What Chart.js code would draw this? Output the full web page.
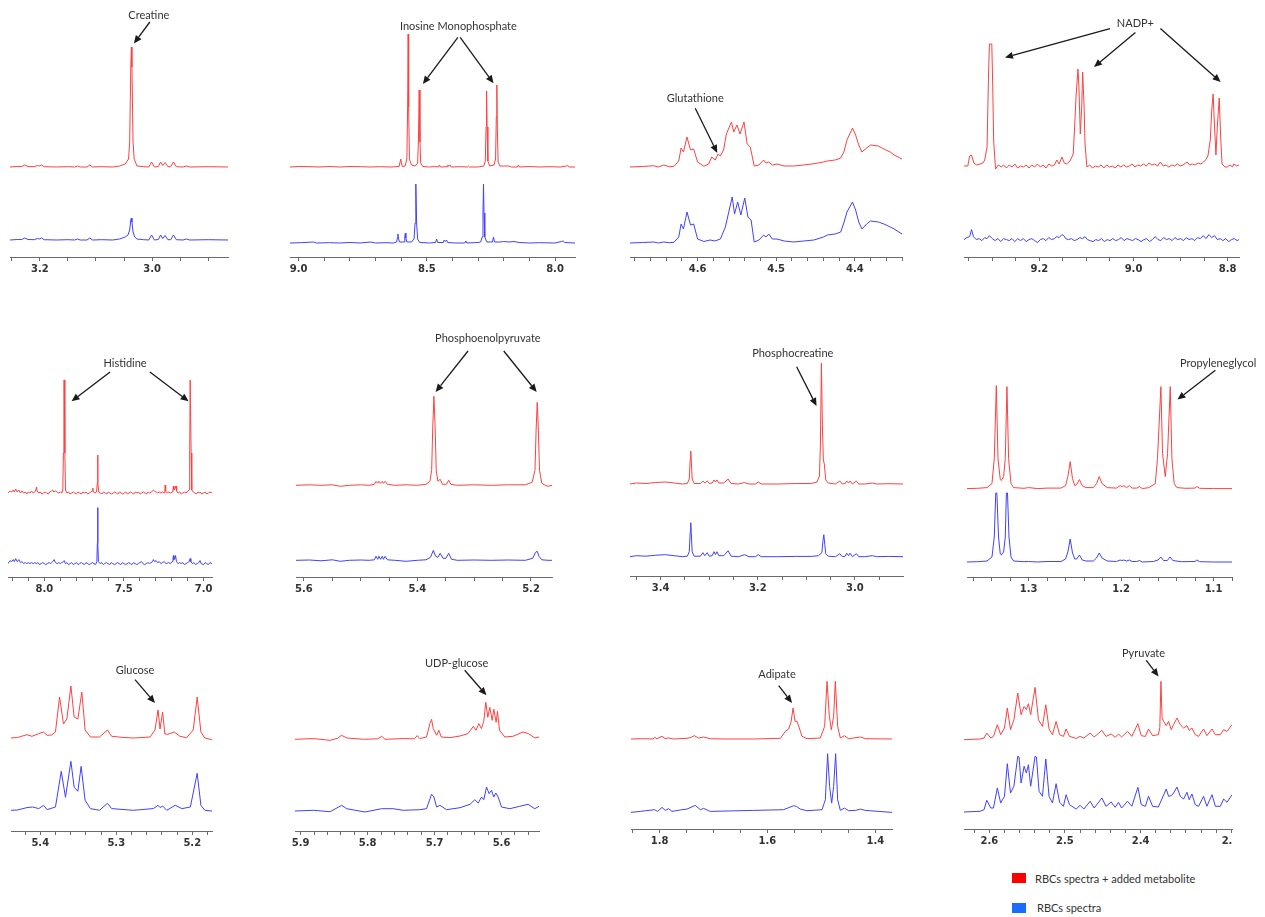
<!DOCTYPE html>
<html>
<head>
<meta charset="utf-8">
<script src="https://cdn.jsdelivr.net/npm/chart.js@4.4.1/dist/chart.umd.min.js"></script>
<style>
  body { margin: 0; background: #fff; width: 1265px; height: 917px; position: relative; overflow: hidden; }
  canvas { position: absolute; }
  .swatch { position: absolute; width: 14px; height: 10px; }
  .key { position: absolute; font: 11px Lato, "Open Sans", sans-serif; color: #333; white-space: nowrap; }
</style>
</head>
<body>
<div class="swatch" style="left:1012px;top:873px;background:#ff0000"></div>
<div class="key" style="left:1035px;top:872px">RBCs spectra + added metabolite</div>
<div class="swatch" style="left:1012px;top:903px;background:#1a6cff"></div>
<div class="key" style="left:1037px;top:901px">RBCs spectra</div>

<script>
// spectra: [ppm, intensity above own baseline]
const creatineRed = [[3.253,0],[3.240,0.5],[3.232,0.5],[3.227,2],[3.221,0.5],[3.210,0.3],[3.204,1.5],[3.201,1],[3.197,2],[3.192,0.3],[3.170,0],[3.150,0.3],[3.138,0],[3.133,1],[3.128,0],[3.116,0],[3.111,2],[3.106,0],[3.090,0.3],[3.070,0],[3.058,1],[3.048,3],[3.042,8],[3.040,25],[3.038,100],[3.037,120],[3.036,100],[3.034,25],[3.032,8],[3.027,1],[3.015,0.3],[3.006,0],[3.001,5],[2.996,0],[2.989,0.5],[2.985,5],[2.981,1.5],[2.977,4.5],[2.972,0.3],[2.967,0.3],[2.962,5],[2.957,0.3],[2.945,0],[2.939,1],[2.933,0],[2.900,0.3],[2.865,0]];
const creatineBlue = [[3.253,0],[3.240,0.5],[3.232,0.5],[3.227,2],[3.221,0.5],[3.210,0.3],[3.204,1.5],[3.201,1],[3.197,2],[3.192,0.3],[3.170,0],[3.150,0.3],[3.138,0],[3.133,1],[3.128,0],[3.116,0],[3.111,2],[3.106,0],[3.090,0.3],[3.070,0],[3.058,1],[3.048,3],[3.043,5],[3.040,10],[3.038,20],[3.037,22],[3.036,18],[3.034,8],[3.031,3],[3.027,1],[3.015,0.3],[3.006,0],[3.001,5],[2.996,0],[2.989,0.5],[2.985,5],[2.981,1.5],[2.977,4.5],[2.972,0.3],[2.967,0.3],[2.962,5],[2.957,0.3],[2.945,0],[2.939,1],[2.933,0],[2.900,0.3],[2.865,0]];

const impRed = [[9.034,0],[9.000,0.5],[8.960,0.3],[8.920,0],[8.880,0.5],[8.840,0],[8.800,0.5],[8.760,0.3],[8.720,0],[8.680,0.3],[8.640,0],[8.608,0.5],[8.604,6],[8.602,8],[8.600,5],[8.596,0.5],[8.585,1],[8.578,8],[8.575,60],[8.573,133],[8.571,60],[8.568,8],[8.560,2],[8.545,1],[8.536,4],[8.533,25],[8.530,77],[8.527,25],[8.524,4],[8.516,0.5],[8.490,0],[8.470,0.5],[8.455,0],[8.451,2],[8.447,0],[8.421,0.3],[8.418,2],[8.414,1],[8.410,2],[8.405,0],[8.370,0.3],[8.342,0],[8.338,1],[8.334,0],[8.300,0],[8.278,1],[8.272,6],[8.269,40],[8.267,76],[8.265,40],[8.262,6],[8.255,1],[8.238,2],[8.232,8],[8.229,50],[8.227,82],[8.225,40],[8.222,5],[8.215,1],[8.200,1],[8.180,1],[8.170,0],[8.147,0],[8.143,2],[8.139,0],[8.100,0.5],[8.060,0],[8.020,0.3],[7.980,0],[7.955,1],[7.950,1.5],[7.945,0],[7.922,0]];
const impBlue = [[9.034,0],[8.990,0.3],[8.943,1],[8.930,0],[8.880,0.3],[8.840,0],[8.800,0.5],[8.760,0],[8.721,1],[8.700,0],[8.660,0.3],[8.630,0],[8.618,1],[8.615,5],[8.613,9],[8.611,5],[8.607,1],[8.589,1],[8.586,6],[8.584,10],[8.582,5],[8.578,1],[8.560,1],[8.550,4],[8.546,20],[8.543,59],[8.540,20],[8.536,4],[8.528,0.5],[8.490,0],[8.466,0.5],[8.462,4],[8.458,0.5],[8.436,0.5],[8.432,3],[8.428,1.5],[8.423,3],[8.419,0.5],[8.390,0],[8.352,0],[8.348,2],[8.344,0],[8.300,0.5],[8.290,1],[8.284,6],[8.281,30],[8.279,59],[8.277,30],[8.274,6],[8.266,1],[8.244,1],[8.240,6],[8.236,1],[8.215,1],[8.200,1.5],[8.180,1],[8.160,1.5],[8.140,0.5],[8.100,0],[8.060,0.3],[8.000,0],[7.975,1.5],[7.968,2],[7.962,0.5],[7.922,0]];

const glutRed = [[4.686,0],[4.670,0.5],[4.656,1.3],[4.650,0],[4.643,2],[4.636,0.3],[4.630,0.7],[4.624,6],[4.621,19],[4.618,15],[4.6135,30],[4.609,17],[4.605,18],[4.600,5],[4.592,0.7],[4.586,3],[4.582,10],[4.5775,7],[4.574,13],[4.571,11],[4.567,17],[4.5634,33],[4.557,45],[4.554,35],[4.550,42],[4.546,33],[4.541,45],[4.537,23],[4.533,20],[4.528,1],[4.522,2],[4.516,7],[4.513,4],[4.5095,5],[4.505,2],[4.499,3],[4.490,1],[4.478,1],[4.465,2],[4.452,3.3],[4.440,5],[4.435,6],[4.425,7],[4.418,9],[4.414,15],[4.410,27],[4.403,39],[4.399,32],[4.395,22],[4.391,15],[4.385,19],[4.380,22],[4.370,21],[4.363,18],[4.355,15],[4.350,12],[4.340,8]];
const glutBlue = [[4.686,0],[4.670,0.5],[4.656,1],[4.650,0],[4.643,1],[4.636,0.3],[4.630,0.7],[4.624,6],[4.621,19],[4.618,14],[4.6135,31],[4.609,18],[4.605,19],[4.600,4],[4.592,1.5],[4.584,3],[4.578,2],[4.571,4],[4.5647,16],[4.556,46],[4.553,29],[4.549,41],[4.545,28],[4.540,45],[4.536,26],[4.532,23],[4.528,1],[4.522,3],[4.516,8],[4.513,6],[4.5095,9],[4.505,4],[4.499,4],[4.490,2],[4.478,1],[4.465,2],[4.452,3],[4.440,6],[4.435,8],[4.425,9],[4.418,11],[4.414,20],[4.410,31],[4.403,41],[4.399,33],[4.395,21],[4.391,14],[4.385,19],[4.380,22],[4.370,21],[4.363,19],[4.355,16],[4.350,14],[4.340,9]];

const nadpRed = [[9.360,0],[9.352,0],[9.348,10],[9.344,11],[9.339,3],[9.333,1],[9.326,2],[9.320,3],[9.316,6],[9.311,19],[9.308,90],[9.306,122],[9.301,122],[9.299,80],[9.297,25],[9.293,-3],[9.287,1],[9.281,-1],[9.276,1],[9.270,-2],[9.264,1],[9.258,-1],[9.252,2],[9.246,-2],[9.240,0],[9.234,-1],[9.228,1],[9.222,-2],[9.216,1],[9.210,-1],[9.204,2],[9.198,-1],[9.192,1],[9.186,-2],[9.180,2],[9.174,0],[9.168,1],[9.163,6],[9.158,2],[9.152,9],[9.147,3],[9.142,2],[9.135,5],[9.128,12],[9.125,40],[9.122,70],[9.118,97],[9.116,80],[9.113,32],[9.110,60],[9.108,94],[9.105,60],[9.103,22],[9.099,-1],[9.093,1],[9.087,-2],[9.081,0],[9.075,-1],[9.069,1],[9.063,-2],[9.057,1],[9.051,-1],[9.045,0],[9.039,-2],[9.033,1],[9.027,-1],[9.021,1],[9.015,-1],[9.009,0],[9.003,2],[8.997,-1],[8.991,1],[8.985,0],[8.979,2],[8.973,0],[8.967,3],[8.961,1],[8.955,2],[8.949,0],[8.943,4],[8.937,0],[8.931,1],[8.925,-1],[8.919,1],[8.913,0],[8.907,2],[8.901,0],[8.895,1],[8.889,3],[8.886,4],[8.881,1],[8.875,2],[8.869,1],[8.863,3],[8.857,2],[8.851,4],[8.847,6],[8.842,10],[8.837,26],[8.834,55],[8.831,72],[8.828,40],[8.825,11],[8.822,40],[8.818,68],[8.815,30],[8.812,2],[8.806,-1],[8.801,-1],[8.795,1],[8.790,-1],[8.787,2],[8.781,0],[8.776,1]];
const nadpBlue = [[9.360,0],[9.354,2],[9.348,3],[9.344,10],[9.340,3],[9.334,0],[9.328,1],[9.322,-1],[9.316,2],[9.311,1],[9.306,4],[9.300,1],[9.294,-1],[9.288,1],[9.282,-2],[9.276,1],[9.270,0],[9.264,-1],[9.258,1],[9.252,-2],[9.246,1],[9.240,-1],[9.234,1],[9.228,-2],[9.222,0],[9.216,1],[9.210,-1],[9.204,-3],[9.198,0],[9.192,1],[9.186,-1],[9.180,2],[9.174,0],[9.168,1],[9.163,3],[9.158,2],[9.152,5],[9.148,4],[9.144,1],[9.138,0],[9.132,1],[9.126,-1],[9.120,0],[9.114,2],[9.108,1],[9.103,3],[9.098,0],[9.092,-1],[9.086,-2],[9.080,0],[9.074,-1],[9.068,1],[9.062,-2],[9.056,0],[9.050,-1],[9.044,1],[9.038,-1],[9.032,0],[9.026,2],[9.020,-1],[9.014,1],[9.008,0],[9.002,-1],[8.996,1],[8.990,0],[8.984,-2],[8.978,0],[8.972,1],[8.966,-2],[8.960,0],[8.954,3],[8.948,0],[8.942,-1],[8.936,2],[8.930,0],[8.924,1],[8.918,-1],[8.912,2],[8.906,0],[8.900,1],[8.894,-1],[8.888,2],[8.882,0],[8.876,1],[8.870,-1],[8.864,2],[8.858,1],[8.852,4],[8.846,1],[8.840,5],[8.834,2],[8.828,4],[8.822,0],[8.816,1],[8.810,-1],[8.804,1],[8.798,-2],[8.792,0],[8.786,1],[8.780,-1],[8.776,0]];

const histRed = [[8.228,0],[8.215,2],[8.205,1],[8.195,3],[8.188,1],[8.180,4],[8.170,1],[8.160,3],[8.150,0],[8.140,2],[8.130,0],[8.120,1],[8.110,-1],[8.100,1],[8.090,0],[8.080,2],[8.070,0],[8.060,1],[8.053,3],[8.049,6],[8.045,2],[8.035,0],[8.025,1],[8.015,-1],[8.005,0],[7.995,1],[7.985,0],[7.975,-1],[7.965,1],[7.955,2],[7.948,3],[7.941,1],[7.930,2],[7.920,1],[7.910,0],[7.900,1],[7.890,0],[7.884,3],[7.880,40],[7.877,113],[7.874,113],[7.871,40],[7.867,3],[7.858,0],[7.848,1],[7.838,-1],[7.828,0],[7.818,1],[7.808,0],[7.798,-1],[7.788,1],[7.778,0],[7.768,-1],[7.758,1],[7.748,0],[7.738,1],[7.728,-1],[7.718,0],[7.708,1],[7.699,2],[7.696,5],[7.692,1],[7.682,0],[7.672,1],[7.667,10],[7.665,38],[7.663,10],[7.658,1],[7.648,0],[7.638,-1],[7.628,1],[7.618,0],[7.608,-1],[7.598,1],[7.588,0],[7.578,-1],[7.568,0],[7.558,1],[7.548,0],[7.538,-1],[7.528,1],[7.518,0],[7.508,-1],[7.498,0],[7.488,1],[7.478,-1],[7.468,0],[7.458,1],[7.448,0],[7.438,-1],[7.428,1],[7.418,0],[7.408,1],[7.398,-1],[7.388,0],[7.378,1],[7.368,0],[7.358,-1],[7.348,1],[7.338,0],[7.328,1],[7.320,2],[7.315,3],[7.308,2],[7.298,1],[7.288,0],[7.278,1],[7.268,0],[7.258,1],[7.248,0],[7.243,3],[7.241,8],[7.238,2],[7.228,0],[7.218,1],[7.208,0],[7.198,1],[7.192,4],[7.189,7],[7.186,3],[7.180,4],[7.173,7],[7.169,2],[7.160,0],[7.150,1],[7.140,-1],[7.130,0],[7.120,1],[7.110,0],[7.100,2],[7.090,3],[7.087,40],[7.084,113],[7.081,113],[7.078,40],[7.074,3],[7.065,1],[7.055,0],[7.045,-1],[7.035,1],[7.025,0],[7.020,1],[7.012,-1],[7.000,0],[6.990,1],[6.980,-1],[6.970,0],[6.960,1],[6.947,0]];
const histBlue = [[8.228,0],[8.215,3],[8.205,2],[8.195,4],[8.188,2],[8.180,5],[8.170,2],[8.160,4],[8.150,1],[8.140,2],[8.130,0],[8.120,1],[8.110,0],[8.100,1],[8.090,0],[8.080,1],[8.070,0],[8.060,1],[8.050,0],[8.040,1],[8.030,-1],[8.020,0],[8.010,1],[8.000,0],[7.990,-1],[7.980,0],[7.970,1],[7.960,0],[7.948,2],[7.938,4],[7.930,1],[7.920,0],[7.910,1],[7.900,0],[7.890,1],[7.880,2],[7.875,3],[7.868,0],[7.858,1],[7.848,-1],[7.838,0],[7.828,1],[7.818,-1],[7.808,0],[7.798,1],[7.788,-1],[7.778,0],[7.768,1],[7.758,0],[7.748,-1],[7.738,1],[7.728,0],[7.718,-1],[7.708,0],[7.698,1],[7.688,0],[7.678,-1],[7.670,2],[7.667,20],[7.665,56],[7.663,20],[7.660,2],[7.650,0],[7.640,1],[7.630,-1],[7.620,0],[7.610,1],[7.600,0],[7.590,-1],[7.580,1],[7.570,0],[7.560,-1],[7.550,0],[7.540,1],[7.530,0],[7.520,-1],[7.510,1],[7.500,0],[7.490,-1],[7.480,0],[7.470,1],[7.460,0],[7.450,-1],[7.440,1],[7.430,0],[7.420,-1],[7.410,0],[7.400,1],[7.390,2],[7.380,0],[7.370,-1],[7.360,0],[7.350,1],[7.340,0],[7.330,1],[7.320,2],[7.315,4],[7.308,2],[7.298,3],[7.288,1],[7.278,2],[7.268,0],[7.258,1],[7.248,2],[7.243,2],[7.235,0],[7.220,1],[7.208,0],[7.198,2],[7.192,5],[7.189,8],[7.186,4],[7.180,5],[7.176,8],[7.170,2],[7.160,0],[7.150,1],[7.140,0],[7.130,1],[7.120,-1],[7.110,0],[7.100,1],[7.090,2],[7.084,5],[7.080,2],[7.070,0],[7.060,1],[7.050,-1],[7.040,0],[7.030,1],[7.022,3],[7.015,0],[7.000,-1],[6.990,1],[6.980,0],[6.970,-1],[6.960,1],[6.947,0]];

const pepRed = [[5.614,0],[5.590,0.5],[5.570,0],[5.550,0.5],[5.536,-1],[5.520,0],[5.500,0.5],[5.485,0],[5.476,1],[5.473,4],[5.470,2],[5.468,4],[5.465,2],[5.462,4],[5.460,2],[5.457,4],[5.453,1],[5.440,0],[5.420,0.5],[5.400,0],[5.385,1],[5.378,4],[5.375,15],[5.373,60],[5.371,89],[5.369,60],[5.367,15],[5.364,4],[5.360,6],[5.356,1],[5.349,1],[5.345,5],[5.341,1],[5.330,0],[5.300,0.5],[5.270,0],[5.240,0.5],[5.210,0.5],[5.198,3],[5.193,15],[5.191,55],[5.189,83],[5.187,55],[5.185,15],[5.181,2],[5.175,0],[5.170,-1],[5.163,0]];
const pepBlue = [[5.614,0],[5.590,0.3],[5.570,-0.5],[5.550,0.5],[5.536,-1],[5.520,0],[5.500,0.3],[5.485,0],[5.476,0.5],[5.473,4],[5.470,1],[5.468,4],[5.465,1],[5.462,4],[5.460,1],[5.457,4],[5.453,0.5],[5.440,0],[5.420,-1],[5.400,0],[5.385,0.5],[5.377,3],[5.372,10],[5.368,4],[5.364,3],[5.360,7],[5.355,2],[5.350,2],[5.345,7],[5.340,1],[5.330,0],[5.300,0.3],[5.270,0],[5.240,0.3],[5.210,0],[5.197,2],[5.192,8],[5.189,9],[5.186,4],[5.181,0.5],[5.170,0],[5.163,0]];

const pcrRed = [[3.463,0],[3.450,1],[3.430,0.5],[3.410,1.5],[3.390,2],[3.372,1],[3.355,0],[3.345,0.5],[3.341,5],[3.339,25],[3.338,33],[3.337,25],[3.335,5],[3.331,0.5],[3.318,0.5],[3.313,3],[3.309,1],[3.304,3],[3.300,0.5],[3.294,1],[3.290,4],[3.287,2],[3.284,4],[3.280,1],[3.270,1],[3.261,5],[3.255,0.5],[3.240,0],[3.227,1.5],[3.218,0],[3.205,0],[3.199,2],[3.193,0],[3.160,0],[3.120,0.5],[3.090,0.5],[3.078,2],[3.073,8],[3.071,40],[3.069,121],[3.067,60],[3.065,24],[3.063,20],[3.060,4],[3.055,1],[3.040,0],[3.031,3],[3.026,0],[3.020,0.5],[3.017,3],[3.013,1],[3.010,3],[3.005,0],[2.997,3],[2.992,0],[2.980,0],[2.964,1],[2.955,0],[2.930,0.3],[2.901,0]];
const pcrBlue = [[3.463,0],[3.450,1],[3.430,0.5],[3.410,1.5],[3.390,2],[3.372,1],[3.355,0],[3.345,0.5],[3.341,5],[3.339,25],[3.338,34],[3.337,25],[3.335,5],[3.331,0.5],[3.318,0.5],[3.313,4],[3.309,1],[3.304,4],[3.300,0.5],[3.294,1],[3.290,5],[3.287,2],[3.284,5],[3.280,1],[3.270,1],[3.261,6],[3.255,0.5],[3.240,0],[3.227,2],[3.218,0],[3.205,0],[3.199,2],[3.193,0],[3.160,0],[3.120,0.3],[3.090,0.3],[3.075,1],[3.068,4],[3.066,15],[3.064,22],[3.062,12],[3.060,3],[3.055,0.5],[3.040,0],[3.031,3],[3.026,0],[3.020,0.5],[3.017,3.5],[3.013,1],[3.010,3.5],[3.005,0],[2.997,3],[2.992,0],[2.980,0],[2.964,1],[2.955,0],[2.930,0.3],[2.901,0]];

const pgRed = [[1.3666,0],[1.355,0.3],[1.345,1],[1.3396,5],[1.3371,30],[1.3349,103],[1.3331,30],[1.3306,9],[1.3295,8],[1.327,12],[1.3252,30],[1.3234,102],[1.3216,30],[1.319,5],[1.3162,1],[1.305,0.3],[1.300,1],[1.290,0],[1.280,0.5],[1.265,0.5],[1.260,3],[1.2575,12],[1.255,27],[1.2525,10],[1.250,3],[1.248,4],[1.245,9],[1.242,3],[1.238,1],[1.230,1],[1.2265,5],[1.2236,12],[1.2205,5],[1.215,1],[1.205,0.5],[1.201,3],[1.199,2],[1.197,3],[1.194,1],[1.191,3],[1.188,0.5],[1.183,0.5],[1.180,2],[1.177,0],[1.170,1],[1.163,5],[1.1606,30],[1.1569,102],[1.1551,35],[1.1522,12],[1.1497,35],[1.1468,102],[1.145,30],[1.1425,5],[1.1396,1],[1.130,0.3],[1.120,0.5],[1.118,2],[1.115,0.3],[1.100,0],[1.080,0]];
const pgBlue = [[1.3666,0],[1.355,0.3],[1.345,1],[1.3396,5],[1.3371,25],[1.3355,69],[1.3343,69],[1.3325,25],[1.3306,8],[1.3295,7],[1.327,10],[1.3252,25],[1.324,69],[1.3228,69],[1.3212,25],[1.319,5],[1.3162,1],[1.305,0.3],[1.300,0.5],[1.290,0],[1.280,0.5],[1.265,0.5],[1.260,3],[1.2575,10],[1.255,23],[1.2525,9],[1.250,3],[1.248,3],[1.245,7],[1.242,2],[1.238,1],[1.230,1],[1.2265,4],[1.2236,9],[1.2205,4],[1.215,1],[1.205,0.5],[1.201,2],[1.199,1.5],[1.197,2],[1.194,1],[1.191,2],[1.188,0.5],[1.183,0.5],[1.180,1.5],[1.177,0],[1.165,0.5],[1.160,2],[1.157,5],[1.154,1.5],[1.150,1.5],[1.147,5],[1.144,1.5],[1.135,0.3],[1.120,0.5],[1.118,2],[1.115,0.3],[1.100,0],[1.080,0]];

const glucoseRed = [[5.4385,0],[5.430,0.5],[5.4175,3.3],[5.411,1.7],[5.402,4.3],[5.3956,6],[5.391,2.7],[5.385,3],[5.380,6],[5.3746,41],[5.3694,14],[5.365,19],[5.3597,52],[5.3554,21],[5.3505,19],[5.3453,46],[5.341,8],[5.334,1],[5.322,1],[5.3116,8],[5.306,1.7],[5.290,0.5],[5.2775,0],[5.2556,1],[5.249,8],[5.245,28],[5.2424,9],[5.239,26],[5.236,4],[5.232,3.7],[5.2236,6],[5.2162,1.7],[5.2074,0.3],[5.1987,8],[5.1935,41],[5.1886,6],[5.1834,0],[5.174,-1.7]];
const glucoseBlue = [[5.4385,0],[5.430,0.3],[5.4175,2.7],[5.410,3.3],[5.402,1.7],[5.3956,5],[5.391,0.7],[5.380,3.3],[5.3724,39],[5.3668,13],[5.3597,49],[5.3554,23],[5.3505,19],[5.3462,44],[5.341,10],[5.334,1.7],[5.322,0],[5.3116,7],[5.306,1.7],[5.2775,0],[5.2512,1.7],[5.245,5],[5.2424,2.7],[5.239,4.3],[5.2335,0],[5.2224,5],[5.2136,1.7],[5.2025,3.3],[5.1935,37],[5.1886,5],[5.1834,0],[5.174,-0.7]];

const udpRed = [[5.9085,0],[5.881,0.7],[5.856,-1],[5.845,1],[5.839,4],[5.831,1.3],[5.806,0],[5.785,0.5],[5.779,3],[5.774,0],[5.747,0.7],[5.730,0.5],[5.726,3.7],[5.722,0.7],[5.712,2.3],[5.707,15.7],[5.7045,20],[5.702,10.7],[5.697,4],[5.6936,9],[5.690,2.3],[5.677,1.7],[5.662,3.3],[5.650,5.7],[5.642,13],[5.638,9],[5.634,15.7],[5.630,10.7],[5.6265,18],[5.6235,37],[5.6205,22],[5.6175,32],[5.614,19],[5.6115,30],[5.608,17],[5.606,28],[5.603,9],[5.595,2.3],[5.583,3],[5.5678,7.3],[5.560,5.7],[5.550,1.3],[5.544,2.3]];
const udpBlue = [[5.9085,0],[5.881,0.7],[5.856,-0.7],[5.8388,5.7],[5.8313,2.3],[5.804,-1],[5.7791,2.3],[5.7618,2.3],[5.7469,0.7],[5.722,1.3],[5.712,2.3],[5.7045,16.7],[5.701,14],[5.697,4],[5.692,5.7],[5.682,1.3],[5.662,3.3],[5.647,6.7],[5.6398,11.3],[5.6348,8],[5.6298,14],[5.6264,11.3],[5.6224,24],[5.6185,17.3],[5.615,20.7],[5.6115,14],[5.6085,18],[5.605,14],[5.600,4],[5.5877,2.3],[5.5728,4.7],[5.5604,6.7],[5.5504,2.3],[5.544,4.7]];

const adipateRed = [[1.853,0],[1.8358,0.3],[1.812,0],[1.8093,1.7],[1.805,0.3],[1.7955,2.7],[1.790,0.5],[1.7833,1],[1.774,0],[1.7492,0.7],[1.742,1.5],[1.7356,3.3],[1.7277,1],[1.7184,2],[1.706,0.3],[1.680,0],[1.6256,0],[1.576,0.7],[1.5668,7.7],[1.5607,10],[1.5563,16.7],[1.5525,31],[1.5488,17.7],[1.5451,17.7],[1.5409,11],[1.5359,2.7],[1.5266,0.3],[1.5019,1],[1.4939,12.7],[1.4895,57.7],[1.4852,22.7],[1.4815,9.3],[1.4772,22.7],[1.4741,57.7],[1.4698,12.7],[1.4648,1],[1.4574,3.3],[1.4494,0.3],[1.4277,2],[1.4184,0.3],[1.369,0]];
const adipateBlue = [[1.853,-1],[1.8358,0],[1.8093,1.7],[1.8037,0],[1.7955,4],[1.7894,1],[1.7833,2.7],[1.777,0],[1.7585,1.7],[1.7492,2.3],[1.7338,6],[1.7245,1.7],[1.7184,3],[1.706,0],[1.6256,1],[1.570,1.7],[1.5514,5.7],[1.5464,5],[1.539,2.3],[1.5266,0.7],[1.4988,1.7],[1.4926,11.7],[1.4884,57.7],[1.4847,25],[1.4809,8.3],[1.4772,25],[1.4735,57.7],[1.4698,11.7],[1.4648,1],[1.4574,3.3],[1.4494,0.7],[1.437,1],[1.4277,2.3],[1.4184,1],[1.369,-1]];

const pyruvateRed = [[2.6335,0],[2.6123,0.7],[2.607,1.7],[2.6034,6.7],[2.598,1.7],[2.5945,3.3],[2.5894,15],[2.585,5],[2.580,11.7],[2.5762,31.7],[2.572,10],[2.5675,20],[2.5624,46.7],[2.558,25],[2.554,33.3],[2.551,30],[2.5483,36],[2.5453,25],[2.5395,52.3],[2.535,20],[2.5297,13.3],[2.5253,35],[2.521,10.7],[2.5165,5],[2.5117,18.3],[2.507,5],[2.502,3.3],[2.4984,10.7],[2.494,3.3],[2.485,1.3],[2.4799,3.3],[2.475,1.7],[2.4666,6.7],[2.4613,2.7],[2.4511,9.3],[2.4457,3.3],[2.4388,5.7],[2.4335,2.3],[2.4291,5.7],[2.425,2.7],[2.4172,8.3],[2.4115,3.3],[2.4035,16],[2.399,4],[2.3936,3.3],[2.3894,10.7],[2.384,4],[2.3764,5],[2.3745,12],[2.373,58.3],[2.3715,22],[2.3694,18.3],[2.366,14],[2.3629,18.3],[2.3594,10],[2.3563,15],[2.3518,21.7],[2.3474,15],[2.343,11.7],[2.3386,14],[2.3356,9.3],[2.332,11.7],[2.3276,5],[2.3232,3.3],[2.3166,10.7],[2.3122,4],[2.3054,10.7],[2.301,5],[2.2944,5],[2.29,10],[2.2856,8.3],[2.279,15]];
const pyruvateBlue = [[2.6335,0],[2.6123,0.7],[2.607,2.3],[2.6034,11.7],[2.598,4],[2.5945,4],[2.5894,24],[2.585,9],[2.580,15.7],[2.5762,48.3],[2.572,19],[2.5675,25.7],[2.5624,55.7],[2.5607,55],[2.558,29],[2.554,45.7],[2.551,39],[2.5483,47.3],[2.5453,25.7],[2.5395,55.7],[2.5377,55],[2.5342,20.7],[2.5297,15.7],[2.5253,53],[2.521,15.7],[2.5165,9],[2.5117,28.3],[2.507,9.7],[2.502,5.7],[2.4984,17.3],[2.494,7.3],[2.485,3],[2.4799,6.7],[2.475,3],[2.4666,10.7],[2.4613,4],[2.4511,14],[2.4457,5.7],[2.4388,10],[2.4335,4.7],[2.4291,9.7],[2.425,4],[2.4172,10.7],[2.4115,5.7],[2.4035,24.7],[2.399,7.3],[2.3936,5.7],[2.3894,15.7],[2.384,5.7],[2.3764,5],[2.366,23],[2.3629,15.7],[2.3594,16.3],[2.3563,19],[2.3518,25],[2.3474,15.7],[2.343,13],[2.3386,19.7],[2.3356,12.3],[2.332,18],[2.3276,7.3],[2.3232,5.7],[2.3166,15.7],[2.3122,5.7],[2.3054,17.3],[2.301,5.7],[2.2944,5.7],[2.29,13],[2.2856,9.7],[2.279,17.3]];

// tick labels: [ppm, text]
const creatineTicks = [[3.2,'3.2'],[3.0,'3.0']];
const impTicks = [[9.0,'9.0'],[8.5,'8.5'],[8.0,'8.0']];
const glutTicks = [[4.6,'4.6'],[4.5,'4.5'],[4.4,'4.4']];
const nadpTicks = [[9.2,'9.2'],[9.0,'9.0'],[8.8,'8.8']];
const histTicks = [[8.0,'8.0'],[7.5,'7.5'],[7.0,'7.0']];
const pepTicks = [[5.6,'5.6'],[5.4,'5.4'],[5.2,'5.2']];
const pcrTicks = [[3.4,'3.4'],[3.2,'3.2'],[3.0,'3.0']];
const pgTicks = [[1.3,'1.3'],[1.2,'1.2'],[1.1,'1.1']];
const glucoseTicks = [[5.4,'5.4'],[5.3,'5.3'],[5.2,'5.2']];
const udpTicks = [[5.9,'5.9'],[5.8,'5.8'],[5.7,'5.7'],[5.6,'5.6']];
const adipateTicks = [[1.8,'1.8'],[1.6,'1.6'],[1.4,'1.4']];
const pyruvateTicks = [[2.6,'2.6'],[2.5,'2.5'],[2.4,'2.4'],[2.2856,'2.']];

const RED = '#ff4040', BLUE = '#4040ff', AXIS = '#6b6b6b', INK = '#333';
const H = 255, AXIS_H = 20, PAD = 40;

// box: [left, right, axis y] on the page; base: [red offset, blue offset]
const panels = [
  { box: [10, 228, 257], range: [3.253, 2.865], step: 0.05, ticks: creatineTicks, red: creatineRed, blue: creatineBlue, base: [90, 17],
    notes: [{ text: 'Creatine', at: [3.0059, 241.7], arrows: [[3.0041, 235, 3.0325, 213.4]] }] },
  { box: [290, 575, 257], range: [9.034, 7.922], step: 0.1, ticks: impTicks, red: impRed, blue: impBlue, base: [90, 14],
    notes: [{ text: 'Inosine Monophosphate', at: [8.377, 230.3], arrows: [[8.379, 219.7, 8.5156, 173], [8.370, 219.7, 8.2398, 173.7]] }] },
  { box: [630, 902, 257], range: [4.686, 4.340], step: 0.02, ticks: glutTicks, red: glutRed, blue: glutBlue, base: [90, 14],
    notes: [{ text: 'Glutathione', at: [4.603, 158.4], arrows: [[4.603, 148.7, 4.575, 104]] }] },
  { box: [964, 1239, 257], range: [9.360, 8.776], step: 0.05, ticks: nadpTicks, red: nadpRed, blue: nadpBlue, base: [91, 17.4],
    notes: [{ text: 'NADP+', at: [8.996, 234], arrows: [[9.050, 228.4, 9.273, 199.4], [8.996, 224.4, 9.084, 190], [8.943, 228.4, 8.815, 175]] }] },
  { box: [8, 212, 577], range: [8.228, 6.947], step: 0.1, ticks: histTicks, red: histRed, blue: histBlue, base: [84, 13.4],
    notes: [{ text: 'Histidine', at: [7.493, 214], arrows: [[7.587, 205, 7.829, 175.7], [7.337, 205, 7.094, 175.7]] }] },
  { box: [296, 552, 577], range: [5.614, 5.163], step: 0.05, ticks: pepTicks, red: pepRed, blue: pepBlue, base: [91.7, 16.7],
    notes: [{ text: 'Phosphoenolpyruvate', at: [5.276, 238.4], arrows: [[5.311, 226, 5.368, 185], [5.248, 226, 5.190, 185]] }] },
  { box: [630, 903, 576], range: [3.463, 2.901], step: 0.05, ticks: pcrTicks, red: pcrRed, blue: pcrBlue, base: [92, 19.3],
    notes: [{ text: 'Phosphocreatine', at: [3.128, 222.7], arrows: [[3.120, 209.3, 3.079, 170]] }] },
  { box: [967, 1232, 577], range: [1.3666, 1.080], step: 0.02, ticks: pgTicks, red: pgRed, blue: pgBlue, base: [88.4, 15],
    notes: [{ text: 'Propyleneglycol', at: [1.095, 214], arrows: [[1.098, 206.7, 1.139, 177.4]] }] },
  { box: [11, 212, 831], range: [5.4385, 5.174], step: 0.02, ticks: glucoseTicks, red: glucoseRed, blue: glucoseBlue, base: [93, 20.7],
    notes: [{ text: 'Glucose', at: [5.2753, 160.7], arrows: [[5.2753, 151.4, 5.249, 128]] }] },
  { box: [295, 539, 831], range: [5.9085, 5.544], step: 0.02, ticks: udpTicks, red: udpRed, blue: udpBlue, base: [91.7, 20],
    notes: [{ text: 'UDP-glucose', at: [5.667, 167.4], arrows: [[5.655, 160.7, 5.6225, 135.7]] }] },
  { box: [631, 892, 829], range: [1.853, 1.369], step: 0.05, ticks: adipateTicks, red: adipateRed, blue: adipateBlue, base: [90, 17.6],
    notes: [{ text: 'Adipate', at: [1.5822, 154.3], arrows: [[1.5791, 143.3, 1.5543, 126]] }] },
  { box: [964, 1232, 829], range: [2.6335, 2.279], step: 0.02, ticks: pyruvateTicks, red: pyruvateRed, blue: pyruvateBlue, base: [89.3, 17],
    notes: [{ text: 'Pyruvate', at: [2.396, 175.3], arrows: [[2.3924, 168.6, 2.3761, 152.6]] }] }
];

function drawArrow(ctx, x1, y1, x2, y2) {
  const a = Math.atan2(y2 - y1, x2 - x1), L = 8, W = 3.5;
  const bx = x2 - L * Math.cos(a), by = y2 - L * Math.sin(a);
  ctx.beginPath(); ctx.moveTo(x1, y1); ctx.lineTo(bx, by); ctx.stroke();
  ctx.beginPath(); ctx.moveTo(x2, y2);
  ctx.lineTo(bx + W * Math.sin(a), by - W * Math.cos(a));
  ctx.lineTo(bx - W * Math.sin(a), by + W * Math.cos(a));
  ctx.closePath(); ctx.fill();
}

const near = (a, b) => Math.abs(a - b) < 1e-6;

panels.forEach(p => {
  const [left, right, axisY] = p.box;
  const c = document.createElement('canvas');
  c.width = right - left + 2 * PAD;
  c.height = H + AXIS_H;
  c.style.left = (left - PAD) + 'px';
  c.style.top = (axisY - H) + 'px';
  document.body.appendChild(c);

  // minor ticks on the step grid, plus any label that falls off it
  const lo = p.range[1], hi = p.range[0];
  const tickVals = [];
  for (let k = Math.ceil(lo / p.step - 1e-6); k * p.step <= hi + 1e-9; k++) tickVals.push(+(k * p.step).toFixed(4));
  const offGrid = p.ticks.filter(([v]) => !tickVals.some(u => near(u, v))).map(([v]) => v);
  const allTicks = tickVals.concat(offGrid).sort((a, b) => a - b);

  new Chart(c, {
    type: 'line',
    data: {
      datasets: [
        { data: p.red.map(([x, y]) => ({ x, y: y + p.base[0] })), borderColor: RED },
        { data: p.blue.map(([x, y]) => ({ x, y: y + p.base[1] })), borderColor: BLUE }
      ]
    },
    options: {
      responsive: false,
      animation: false,
      events: [],
      devicePixelRatio: 1,
      layout: { padding: { left: PAD, right: PAD, top: 0, bottom: 0 } },
      elements: { point: { radius: 0 }, line: { borderWidth: 1, tension: 0 } },
      plugins: { legend: { display: false }, tooltip: { enabled: false } },
      scales: {
        x: {
          type: 'linear', reverse: true, min: lo, max: hi,
          border: { display: true, color: AXIS, width: 1 },
          grid: {
            display: true, drawOnChartArea: false, drawTicks: true, tickLength: 4, color: AXIS,
            tickColor: ctx => (ctx.tick && offGrid.some(v => near(v, ctx.tick.value))) ? 'rgba(0,0,0,0)' : AXIS
          },
          ticks: {
            autoSkip: false, maxRotation: 0, padding: 2, color: INK,
            font: { family: 'DejaVu Sans', size: 10, weight: 'bold' },
            callback: v => { const m = p.ticks.find(([u]) => near(u, v)); return m ? m[1] : ''; }
          },
          afterBuildTicks: scale => { scale.ticks = allTicks.map(v => ({ value: v })); }
        },
        y: { display: false, min: 0, max: H }
      }
    },
    plugins: [{
      id: 'notes',
      afterDatasetsDraw(chart) {
        const { ctx, scales: { x, y } } = chart;
        ctx.save();
        ctx.font = '11px Lato';
        ctx.fillStyle = INK;
        ctx.textAlign = 'center';
        ctx.textBaseline = 'middle';
        ctx.fillText(p.notes[0].text, x.getPixelForValue(p.notes[0].at[0]), y.getPixelForValue(p.notes[0].at[1]));
        ctx.strokeStyle = '#1a1a1a';
        ctx.fillStyle = '#1a1a1a';
        ctx.lineWidth = 1.3;
        p.notes.forEach(n => n.arrows.forEach(([x1, y1, x2, y2]) =>
          drawArrow(ctx, x.getPixelForValue(x1), y.getPixelForValue(y1), x.getPixelForValue(x2), y.getPixelForValue(y2))));
        ctx.restore();
      }
    }]
  });
});
</script>
</body>
</html>
